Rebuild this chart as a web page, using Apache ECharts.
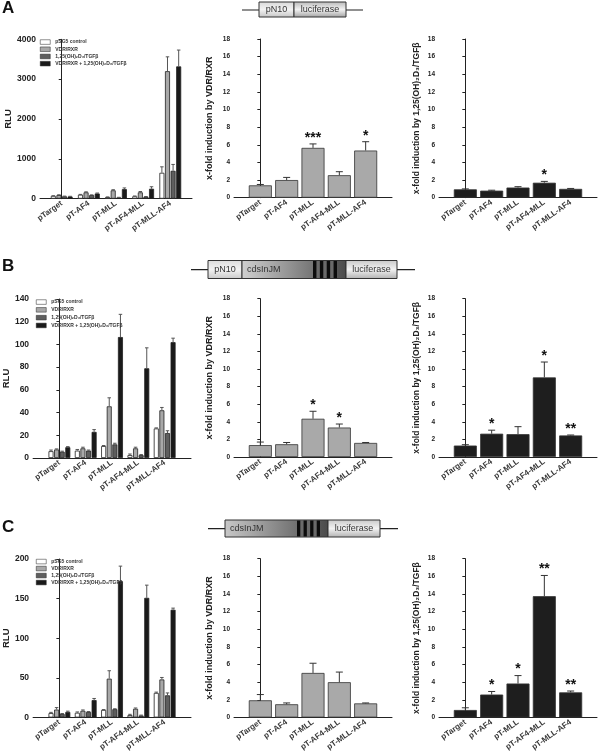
<!DOCTYPE html>
<html>
<head>
<meta charset="utf-8">
<script src="https://cdn.jsdelivr.net/npm/echarts@6/dist/echarts.min.js"></script>
<style>
  html, body { margin: 0; padding: 0; background: #fff; }
  #chart { width: 600px; height: 753px; }
</style>
</head>
<body>
<div id="chart"></div>
<script>
// categories and groups
var categories = ['pTarget', 'pT-AF4', 'pT-MLL', 'pT-AF4-MLL', 'pT-MLL-AF4'];
var groupNames = ['pSG5 control', 'VDR/RXR', '1,25(OH)₂D₃/TGFβ', 'VDR/RXR + 1,25(OH)₂D₃/TGFβ'];
var vdrName = 'x-fold induction by VDR/RXR';
var tgfName = 'x-fold induction by 1,25(OH)₂D₃/TGFβ';

// A: pN10 - luciferase (RLU)
var aCtrl = [70, 100, 40, 60, 650],      aCtrlSd = [5, 8, 5, 8, 150];
var aVdr  = [90, 160, 210, 160, 3200],   aVdrSd  = [8, 12, 15, 20, 360];
var aTgf  = [60, 90, 30, 50, 700],       aTgfSd  = [5, 6, 5, 5, 160];
var aBoth = [55, 130, 240, 250, 3320],   aBothSd = [5, 12, 30, 50, 410];
var aFoldVdr = [1.4, 2.0, 5.65, 2.55, 5.35], aFoldVdrSd = [0.1, 0.3, 0.45, 0.4, 1.0];
var aFoldVdrSig = ['', '', '***', '', '*'];
var aFoldTgf = [0.95, 0.8, 1.15, 1.7, 1.0], aFoldTgfSd = [0.05, 0.05, 0.1, 0.15, 0.05];
var aFoldTgfSig = ['', '', '', '*', ''];

// B: pN10 - cdsInJM - luciferase
var bCtrl = [6, 6.5, 10.5, 2.5, 26],     bCtrlSd = [1, 1, 0.5, 1, 0.5];
var bVdr  = [7.5, 8.5, 45.5, 8.5, 42],   bVdrSd  = [0.5, 1, 7.5, 1, 2.5];
var bTgf  = [5.5, 6.5, 12, 2.5, 22],     bTgfSd  = [0.5, 0.5, 1, 0.5, 2];
var bBoth = [9.5, 23, 106.5, 79, 102],   bBothSd = [0.5, 2, 20, 18, 3.5];
var bFoldVdr = [1.35, 1.45, 4.35, 3.35, 1.6], bFoldVdrSd = [0.35, 0.2, 0.85, 0.4, 0.05];
var bFoldVdrSig = ['', '', '*', '*', ''];
var bFoldTgf = [1.3, 2.65, 2.6, 9.05, 2.45], bFoldTgfSd = [0.1, 0.4, 0.85, 1.75, 0.05];
var bFoldTgfSig = ['', '*', '', '*', '**'];

// C: cdsInJM - luciferase
var cCtrl = [5.5, 6, 9.5, 3, 31],        cCtrlSd = [1, 1, 0.5, 1, 1];
var cVdr  = [10, 8.5, 49, 11, 48],       cVdrSd  = [2.5, 1, 10, 1, 2.5];
var cTgf  = [4.5, 7, 10.5, 2.5, 28],     cTgfSd  = [0.5, 0.5, 0.5, 0.5, 3];
var cBoth = [7, 22, 172, 151, 136],      cBothSd = [1, 2, 19, 16, 2];
var cFoldVdr = [1.95, 1.5, 5.05, 4.0, 1.6], cFoldVdrSd = [0.65, 0.15, 1.1, 1.15, 0.05];
var cFoldVdrSig = ['', '', '', '', ''];
var cFoldTgf = [0.85, 2.6, 3.85, 13.75, 2.85], cFoldTgfSd = [0.25, 0.35, 0.9, 2.35, 0.15];
var cFoldTgfSig = ['', '*', '*', '**', '**'];

var FONT = '"Liberation Sans", Arial, sans-serif';
var grids = [], xAxes = [], yAxes = [], series = [], legends = [];

function addPanel(box, yMax, yStep, yName, nameGap, nameSize, labelSize) {
  var i = grids.length;
  grids.push({ left: box[0], top: box[1], width: box[2], height: box[3] });
  xAxes.push({
    gridIndex: i, type: 'value', min: box[4], max: box[5],
    axisLine: { show: true, onZero: false, lineStyle: { color: '#222', width: 1 } },
    axisTick: { show: false }, splitLine: { show: false },
    axisLabel: {
      customValues: [0, 1, 2, 3, 4],
      formatter: function (v) { return categories[Math.round(v)]; },
      rotate: 35, fontSize: 8, fontWeight: 'bold', color: '#3a3a3a',
      fontFamily: FONT, margin: 4
    }
  });
  yAxes.push({
    gridIndex: i, type: 'value', min: 0, max: yMax, interval: yStep,
    name: yName, nameLocation: 'middle', nameGap: nameGap,
    nameTextStyle: { fontSize: nameSize, fontWeight: 'bold', color: '#222', fontFamily: FONT },
    axisLine: { show: true, lineStyle: { color: '#222', width: 1 } },
    axisTick: { show: true, length: 3, lineStyle: { color: '#222' } },
    axisLabel: {
      fontSize: labelSize, fontWeight: 'bold', color: '#222', fontFamily: FONT, margin: 4,
      formatter: function (v) { return String(v); }
    },
    splitLine: { show: false }
  });
  return i;
}

function errRender(offset, capW, color, sig) {
  return function (params, api) {
    var x = api.value(0), v = api.value(1), e = api.value(2);
    var p0 = api.coord([x, v]);
    var p1 = api.coord([x, v + e]);
    var cx = p0[0] + offset;
    var kids = [
      { type: 'line', shape: { x1: cx, y1: p0[1], x2: cx, y2: p1[1] }, style: { stroke: color, lineWidth: 1 } },
      { type: 'line', shape: { x1: cx - capW / 2, y1: p1[1], x2: cx + capW / 2, y2: p1[1] }, style: { stroke: color, lineWidth: 1 } }
    ];
    if (sig && sig[params.dataIndex]) {
      kids.push({
        type: 'text',
        style: {
          x: cx, y: p1[1] - 6, text: sig[params.dataIndex], fill: '#111',
          font: 'bold 14px ' + FONT, textAlign: 'center', textVerticalAlign: 'middle'
        }
      });
    }
    return { type: 'group', children: kids };
  };
}

function pairs(vals, sds) {
  return vals.map(function (v, j) { return sds ? [j, v, sds[j]] : [j, v]; });
}

var groupColors = ['#ffffff', '#a8a8a8', '#5e5e5e', '#1a1a1a'];

function groupedPanel(i, vals, sds, legendPos) {
  var bw = 5, gapPx = 0.6;
  vals.forEach(function (v, k) {
    series.push({
      type: 'bar', name: groupNames[k], xAxisIndex: i, yAxisIndex: i,
      barWidth: bw, barGap: '12%', silent: true,
      itemStyle: { color: groupColors[k], borderColor: '#222', borderWidth: 0.8 },
      data: pairs(v)
    });
    series.push({
      type: 'custom', xAxisIndex: i, yAxisIndex: i, silent: true, z: 3,
      renderItem: errRender((k - 1.5) * (bw + gapPx), 3.5, '#555'),
      data: pairs(v, sds[k])
    });
  });
  legends.push({
    left: legendPos[0], top: legendPos[1], orient: 'vertical', icon: 'rect',
    itemWidth: 10, itemHeight: 4.6, itemGap: legendPos[2], selectedMode: false,
    padding: 0,
    itemStyle: { borderWidth: 0.5, borderColor: '#222' },
    data: groupNames,
    textStyle: { fontSize: 5, lineHeight: 5, fontWeight: 'bold', color: '#333', fontFamily: FONT }
  });
}

function singlePanel(i, vals, sds, sig, color) {
  series.push({
    type: 'bar', xAxisIndex: i, yAxisIndex: i, barWidth: 23, silent: true,
    itemStyle: { color: color, borderColor: '#333', borderWidth: 0.8 },
    data: pairs(vals)
  });
  series.push({
    type: 'custom', xAxisIndex: i, yAxisIndex: i, silent: true, z: 3,
    renderItem: errRender(0, 7, '#333', sig),
    data: pairs(vals, sds)
  });
}

// row A
var p = addPanel([40, 39.3, 152, 159.4, -0.8, 4.8], 4000, 1000, 'RLU', 26, 9.5, 8.5);
groupedPanel(p, [aCtrl, aVdr, aTgf, aBoth], [aCtrlSd, aVdrSd, aTgfSd, aBothSd], [40, 39.5, 2.1]);
p = addPanel([234, 39, 158, 158.7, -1, 5], 18, 2, vdrName, 20, 9, 6.5);
singlePanel(p, aFoldVdr, aFoldVdrSd, aFoldVdrSig, '#a9a9a9');
p = addPanel([439, 39, 158, 158.7, -1, 5], 18, 2, tgfName, 18, 8.5, 6.5);
singlePanel(p, aFoldTgf, aFoldTgfSd, aFoldTgfSig, '#1e1e1e');

// row B
p = addPanel([30.7, 299, 160.3, 159, -1, 5], 140, 20, 'RLU', 17, 9.5, 8.5);
groupedPanel(p, [bCtrl, bVdr, bTgf, bBoth], [bCtrlSd, bVdrSd, bTgfSd, bBothSd], [36, 299.5, 2.7]);
p = addPanel([234, 298.7, 158, 158.3, -1, 5], 18, 2, vdrName, 20, 9, 6.5);
singlePanel(p, bFoldVdr, bFoldVdrSd, bFoldVdrSig, '#a9a9a9');
p = addPanel([439, 298.7, 158, 158.3, -1, 5], 18, 2, tgfName, 18, 8.5, 6.5);
singlePanel(p, bFoldTgf, bFoldTgfSd, bFoldTgfSig, '#1e1e1e');

// row C
p = addPanel([32, 559, 159, 159, -1, 5], 200, 50, 'RLU', 18, 9.5, 8.5);
groupedPanel(p, [cCtrl, cVdr, cTgf, cBoth], [cCtrlSd, cVdrSd, cTgfSd, cBothSd], [36, 559, 1.9]);
p = addPanel([234, 558.7, 158, 159, -1, 5], 18, 2, vdrName, 20, 9, 6.5);
singlePanel(p, cFoldVdr, cFoldVdrSd, cFoldVdrSig, '#a9a9a9');
p = addPanel([439, 558.7, 158, 159, -1, 5], 18, 2, tgfName, 18, 8.5, 6.5);
singlePanel(p, cFoldTgf, cFoldTgfSd, cFoldTgfSig, '#1e1e1e');

// construct diagrams above the middle column
function vGrad(top, bottom) {
  return new echarts.graphic.LinearGradient(0, 0, 0, 1, [
    { offset: 0, color: top }, { offset: 0.5, color: '#f2f2f2' }, { offset: 1, color: bottom }
  ]);
}
function hGrad(left, right) {
  return new echarts.graphic.LinearGradient(0, 0, 1, 0, [
    { offset: 0, color: left }, { offset: 1, color: right }
  ]);
}
function segment(x, y, w, h, fill, label, align) {
  var out = [{
    type: 'rect', shape: { x: x, y: y, width: w, height: h },
    style: { fill: fill, stroke: '#333', lineWidth: 1 }
  }];
  if (label) {
    out.push({
      type: 'text',
      style: {
        x: align === 'left' ? x + 5 : x + w / 2, y: y + h / 2, text: label,
        font: '9px ' + FONT, fill: '#333', textVerticalAlign: 'middle',
        textAlign: align === 'left' ? 'left' : 'center'
      }
    });
  }
  return out;
}
function stripes(x, y, w, h) {
  var out = [{ type: 'rect', shape: { x: x, y: y + 0.5, width: w, height: h - 1 }, style: { fill: '#6a6a6a' } }];
  var sw = w / 7;
  for (var s = 0; s < 4; s++) {
    out.push({ type: 'rect', shape: { x: x + s * 2 * sw, y: y + 0.5, width: sw, height: h - 1 }, style: { fill: '#0d0d0d' } });
  }
  return out;
}
function hline(x1, x2, y) {
  return { type: 'line', shape: { x1: x1, y1: y, x2: x2, y2: y }, style: { stroke: '#222', lineWidth: 1.2 } };
}

var graphics = [];
function label(t, x, y) {
  graphics.push({ type: 'text', style: { x: x, y: y, text: t, font: 'bold 17px ' + FONT, fill: '#111' } });
}
label('A', 2, 0); label('B', 2, 258); label('C', 2, 519);

// A construct
graphics.push(hline(242, 363, 10));
graphics = graphics.concat(segment(259, 2, 35, 15, vGrad('#d8d8d8', '#c4c4c4'), 'pN10'));
graphics = graphics.concat(segment(294, 2, 52, 15, vGrad('#b8b8b8', '#a0a0a0'), 'luciferase'));
// B construct
graphics.push(hline(191, 415, 269.7));
graphics = graphics.concat(segment(208, 260.5, 34, 18, vGrad('#dcdcdc', '#c8c8c8'), 'pN10'));
graphics = graphics.concat(segment(242, 260.5, 104, 18, hGrad('#d0d0d0', '#4a4a4a'), 'cdsInJM', 'left'));
graphics = graphics.concat(stripes(313, 260.5, 24, 18));
graphics = graphics.concat(segment(346, 260.5, 51, 18, vGrad('#c8c8c8', '#b0b0b0'), 'luciferase'));
// C construct
graphics.push(hline(208, 398, 528.7));
graphics = graphics.concat(segment(225, 520, 103, 17, hGrad('#c8c8c8', '#4a4a4a'), 'cdsInJM', 'left'));
graphics = graphics.concat(stripes(297, 520, 23, 17));
graphics = graphics.concat(segment(328, 520, 52, 17, vGrad('#c8c8c8', '#b0b0b0'), 'luciferase'));

var chart = echarts.init(document.getElementById('chart'), null, { renderer: 'canvas' });
chart.setOption({
  animation: false,
  textStyle: { fontFamily: FONT },
  grid: grids,
  xAxis: xAxes,
  yAxis: yAxes,
  legend: legends,
  series: series,
  graphic: graphics
});
</script>
</body>
</html>
